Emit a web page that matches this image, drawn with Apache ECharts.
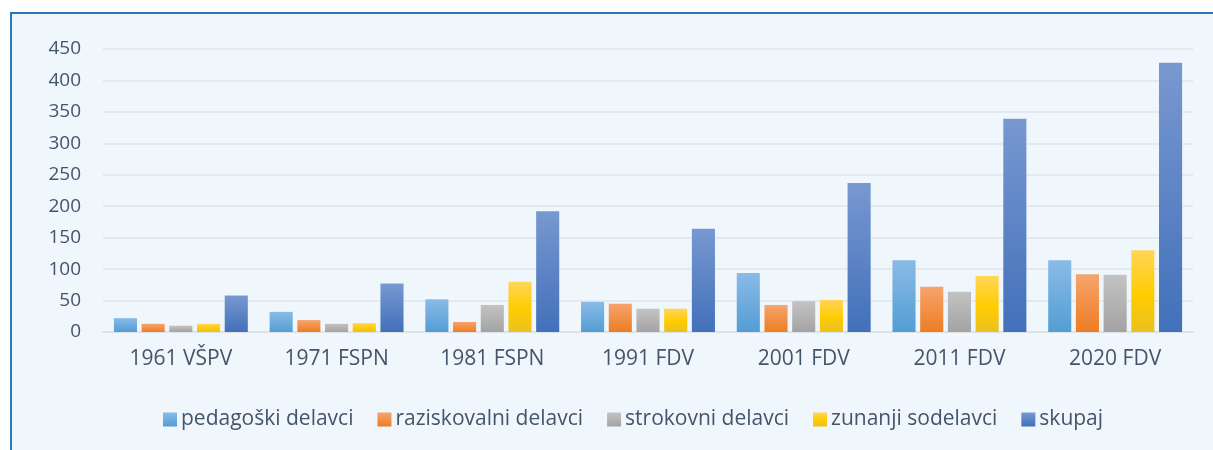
<!DOCTYPE html>
<html>
<head>
<meta charset="utf-8">
<script src="https://cdn.jsdelivr.net/npm/echarts@6/dist/echarts.min.js"></script>
<style>
html,body{margin:0;padding:0;background:#fff;width:1213px;height:450px;overflow:hidden;}
#frame{
  position:absolute;
  left:10px;
  top:12px;
  width:1203px;
  height:438px;
  border-top:2px solid #2e75b6;
  border-left:2px solid #2e75b6;
  background:#eff7fd;
}
#chart{
  position:absolute;
  left:0;
  top:0;
  width:1213px;
  height:450px;
}
</style>
</head>
<body>
<div id="frame"></div>
<div id="chart"></div>
<script>
var categories = ['1961 VŠPV','1971 FSPN','1981 FSPN','1991 FDV','2001 FDV','2011 FDV','2020 FDV'];
var yTicks = [0,50,100,150,200,250,300,350,400,450];
var seriesNames = ['pedagoški delavci','raziskovalni delavci','strokovni delavci','zunanji sodelavci','skupaj'];
var pedagoski = [22,32,52,48,94,114,114];
var raziskovalni = [13,19,16,45,43,72,92];
var strokovni = [10,13,43,37,49,64,91];
var zunanji = [13,14,80,37,51,89,130];
var skupaj = [58,77,192,164,237,339,428];

// top colour, bottom colour for each series
var grads = [
  ['#8abbe6','#539dd5'],
  ['#f6a46e','#ed7d22'],
  ['#c3c3c3','#a3a3a3'],
  ['#ffd658','#ebc020'],
  ['#7898d0','#4270ba']
];

var chart = echarts.init(document.getElementById('chart'));

function grad(i){
  if(i==3){
    return new echarts.graphic.LinearGradient(0,0,0,1,[
      {offset:0,color:'#ffd658'},
      {offset:0.55,color:'#ffcc00'},
      {offset:1,color:'#ebc020'}
    ]);
  }
  return new echarts.graphic.LinearGradient(0,0,0,1,[
    {offset:0,color:grads[i][0]},
    {offset:1,color:grads[i][1]}
  ]);
}

var dataList = [pedagoski,raziskovalni,strokovni,zunanji,skupaj];
var series = [];
for(var i=0;i<dataList.length;i++){
  series.push({
    name:seriesNames[i],
    type:'bar',
    data:dataList[i],
    barGap:'20%',
    barCategoryGap:'14%',
    itemStyle:{color:grad(i)}
  });
}

var textColor = '#44546a';
var font = 'Open Sans';

var option = {
  animation:false,
  backgroundColor:'transparent',
  textStyle:{fontFamily:font},
  grid:{left:103,right:20,top:49,bottom:118},
  legend:{
    left:158,
    top:404,
    itemWidth:14,
    itemHeight:14,
    itemGap:24,
    icon:'rect',
    data:seriesNames,
    textStyle:{color:textColor,fontSize:21,fontFamily:font,padding:[0,0,0,-1]}
  },
  xAxis:{
    type:'category',
    data:categories,
    axisTick:{show:false},
    axisLine:{show:true,lineStyle:{color:'#dfe3e8',width:2}},
    axisLabel:{color:textColor,fontSize:21,margin:17,fontFamily:font}
  },
  yAxis:{
    type:'value',
    min:0,
    max:450,
    interval:50,
    axisLine:{show:false},
    axisTick:{show:false},
    splitLine:{lineStyle:{color:'#e1e5ea',width:1.5}},
    axisLabel:{color:textColor,fontSize:19,margin:22,fontFamily:font}
  },
  series:series
};
chart.setOption(option);
</script>
</body>
</html>
